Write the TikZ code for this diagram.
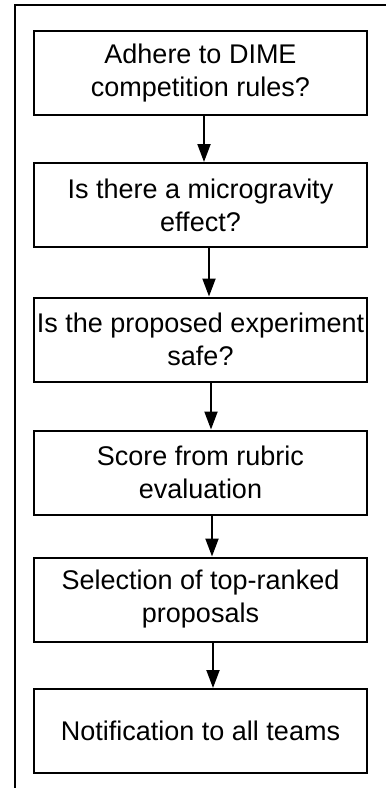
\documentclass[tikz,border=0pt]{standalone}
\usepackage{fontspec}
\setmainfont{Liberation Sans}
\usetikzlibrary{arrows.meta}
\begin{document}
\begin{tikzpicture}[x=1pt,y=-1pt,
  box/.style={draw=black,line width=2pt,minimum width=333pt,minimum height=84pt,
    inner sep=0pt,align=center,
    font=\fontsize{27}{33}\selectfont},
  conn/.style={line width=2pt,-{Triangle[width=13pt,length=18pt]}}]
\useasboundingbox (0,0) rectangle (386,788);
\draw[line width=2pt] (14.5,788) -- (14.5,4.5) -- (386,4.5);
\node[box] (b1) at (200.5,73) {Adhere to DIME\\competition rules?};
\node[box] (b2) at (200.5,205) {Is there a microgravity\\effect?};
\node[box] (b3) at (200.5,339.5) {Is the proposed experiment\\safe?};
\node[box] (b4) at (200.5,472.5) {Score from rubric\\evaluation};
\node[box] (b5) at (200.5,599.5) {Selection of top-ranked\\proposals};
\node[box] (b6) at (200.5,731) {Notification to all teams};
\draw[conn] ([xshift=3.5pt]b1.south) -- ([xshift=3.5pt]b2.north);
\draw[conn] ([xshift=8.5pt]b2.south) -- ([xshift=8.5pt]b3.north);
\draw[conn] ([xshift=10.5pt]b3.south) -- ([xshift=10.5pt]b4.north);
\draw[conn] ([xshift=11.5pt]b4.south) -- ([xshift=11.5pt]b5.north);
\draw[conn] ([xshift=12.5pt]b5.south) -- ([xshift=12.5pt]b6.north);
\end{tikzpicture}
\end{document}
